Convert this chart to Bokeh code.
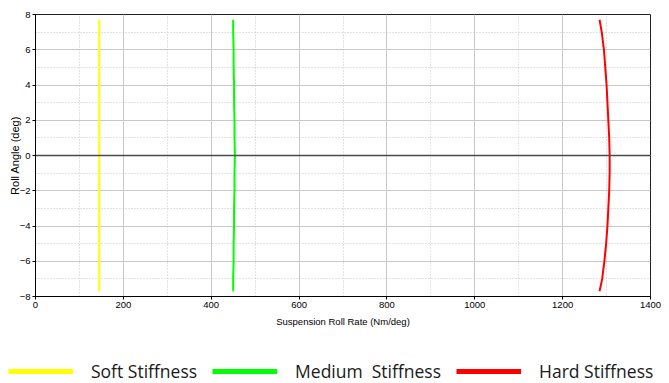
from bokeh.plotting import figure
from bokeh.models import Range1d, Legend, LegendItem, Span, SingleIntervalTicker
from bokeh.layouts import column, row
from bokeh.embed import file_html
from bokeh.resources import INLINE

# ---- data ----
roll_angle = [7.7, 7, 6, 5, 4, 3, 2, 1, 0, -1, -2, -3, -4, -5, -6, -7, -7.7]
soft_rate = [145, 145, 145, 145, 145, 145, 145, 145, 145, 145, 145, 145, 145, 145, 145, 145, 145]
medium_rate = [450, 450, 451, 451, 452, 452, 453, 453, 454, 453, 453, 452, 452, 451, 451, 450, 450]
hard_rate = [1284, 1289, 1294, 1297, 1300, 1302, 1304, 1306, 1307, 1307, 1306, 1304, 1302, 1299, 1295, 1290, 1284]

series_names = ["Soft Stiffness", "Medium  Stiffness", "Hard Stiffness"]
series_colors = ["#ffff00", "#00ff00", "#ff0000"]
series_rates = [soft_rate, medium_rate, hard_rate]

x_label = "Suspension Roll Rate (Nm/deg)"
y_label = "Roll Angle (deg)"

AX_FONT = "'Liberation Sans', sans-serif"

p = figure(width=669, height=353,
           x_range=Range1d(0, 1400), y_range=Range1d(-8, 8),
           output_backend="svg", toolbar_location=None,
           min_border_left=35, min_border_right=19,
           min_border_top=14, min_border_bottom=57)

p.background_fill_color = "white"
p.border_fill_color = "white"
p.outline_line_color = "#222222"
p.outline_line_width = 1

p.xaxis.ticker = SingleIntervalTicker(interval=200, num_minor_ticks=2)
p.yaxis.ticker = SingleIntervalTicker(interval=2, num_minor_ticks=2)

for ax in (p.xaxis, p.yaxis):
    ax.axis_line_color = "black"
    ax.major_tick_line_color = "black"
    ax.major_tick_out = 3
    ax.major_tick_in = 0
    ax.minor_tick_out = 0
    ax.minor_tick_in = 0
    ax.major_label_text_font = AX_FONT
    ax.major_label_text_font_size = "9.5px"
    ax.major_label_text_color = "black"
    ax.major_label_standoff = 2
    ax.axis_label_text_font = AX_FONT
    ax.axis_label_text_font_style = "normal"
    ax.axis_label_text_color = "black"

p.xaxis.axis_label = x_label
p.xaxis.axis_label_text_font_size = "9.5px"
p.xaxis.axis_label_standoff = 5

p.yaxis.axis_label = y_label
p.yaxis.axis_label_text_font_size = "11px"
p.yaxis.axis_label_standoff = -4

for g in (p.xgrid, p.ygrid):
    g.grid_line_color = "#c8c8c8"
    g.grid_line_width = 1
    g.minor_grid_line_color = "#c4c4c4"
    g.minor_grid_line_dash = "1 2"
    g.minor_grid_line_width = 1

p.add_layout(Span(location=0, dimension="width", line_color="#4a4a4a", line_width=1.6))

for xs, c in zip(series_rates, series_colors):
    p.line(xs, roll_angle, line_color=c, line_width=2)

# ---- legend strip below the chart (its lines lie outside its view; only the legend shows) ----
lg = figure(width=669, height=30, x_range=Range1d(0, 1), y_range=Range1d(0, 1),
            output_backend="svg", toolbar_location=None,
            x_axis_location=None, y_axis_location=None, min_border=0)
lg.grid.visible = False
lg.outline_line_color = None
lg.background_fill_color = "white"
lg.border_fill_color = "white"

legend_renderers = [lg.line(xs, roll_angle, line_color=c, line_width=5)
                    for xs, c in zip(series_rates, series_colors)]
legend = Legend(
    items=[LegendItem(label=n, renderers=[r]) for n, r in zip(series_names, legend_renderers)],
    orientation="horizontal", location=(8, 0),
    glyph_width=65, glyph_height=22, label_standoff=18, spacing=15,
    padding=0, margin=0, border_line_color=None, background_fill_alpha=0,
    label_text_font="Open Sans", label_text_font_size="17.5px",
    label_text_color="#1a1a1a", label_text_baseline="middle",
)
lg.add_layout(legend)

open("out.html", "w").write(file_html(column(p, row(lg), spacing=0), INLINE))
